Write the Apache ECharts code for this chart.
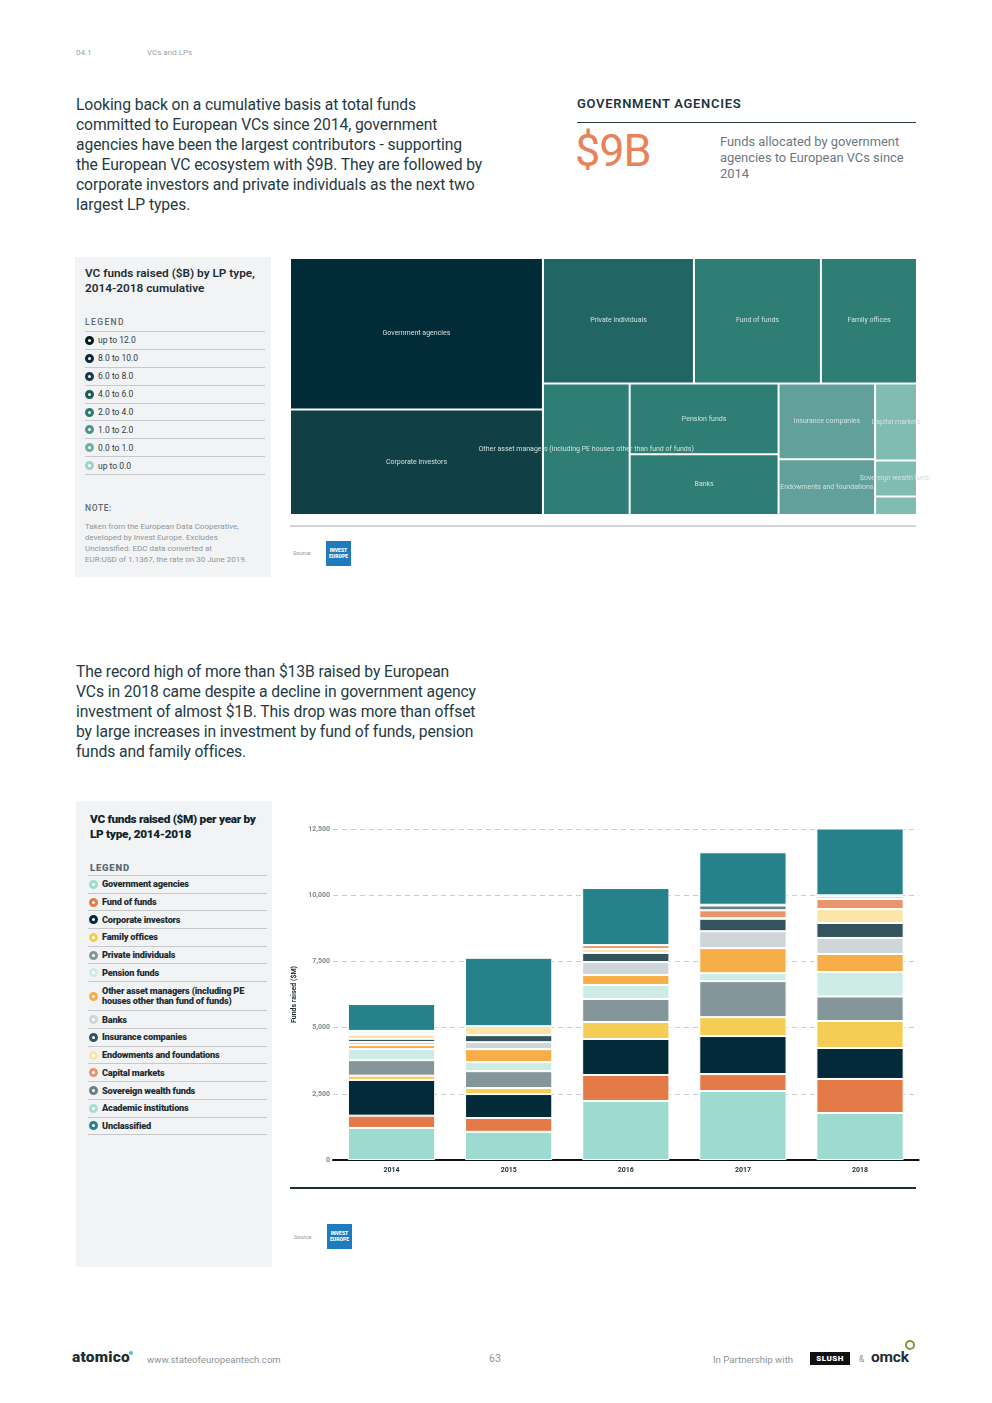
<!DOCTYPE html>
<html>
<head>
<meta charset="utf-8">
<title>VCs and LPs</title>
<script src="https://cdn.jsdelivr.net/npm/echarts@6/dist/echarts.min.js"></script>
<style>
html,body{margin:0;padding:0;}
body{width:992px;height:1403px;position:relative;background:#fff;font-family:Roboto,"Noto Sans",sans-serif;color:#253740;overflow:hidden;}
.a{position:absolute;white-space:nowrap;}
.hdr{font-size:8px;color:#9aa3a6;top:48px;}
.para{font-size:15.7px;line-height:20px;color:#263a42;letter-spacing:-0.1px;}
.panel{position:absolute;background:#f2f3f4;}
.lgbox{position:absolute;border-top:1.5px solid #c5c9cb;}
.lgrow{display:flex;align-items:center;border-bottom:1.5px solid #c5c9cb;box-sizing:border-box;}
.icon{width:3px;height:3px;border-radius:50%;border:3px solid #000;background:#fff;flex:none;margin-right:4px;}
.src{font-size:5.5px;color:#8a9598;}
.logo{position:absolute;width:25px;height:25px;background:#1f7bbd;color:#fff;font-size:5px;font-weight:900;line-height:5.5px;text-align:center;box-sizing:border-box;padding-top:7px;}
</style>
</head>
<body>
<div class="a hdr" style="left:76px;">04.1</div>
<div class="a hdr" style="left:147px;">VCs and LPs</div>

<div class="a para" style="left:76px;top:95px;">Looking back on a cumulative basis at total funds<br>committed to European VCs since 2014, government<br>agencies have been the largest contributors - supporting<br>the European VC ecosystem with $9B. They are followed by<br>corporate investors and private individuals as the next two<br>largest LP types.</div>

<div class="a" style="left:577px;top:96px;font-size:13px;font-weight:600;letter-spacing:0.7px;color:#1d3440;">GOVERNMENT AGENCIES</div>
<div class="a" style="left:577px;top:121.5px;width:339px;height:1.2px;background:#2a3a40;"></div>
<div class="a" style="left:575px;top:124px;font-size:45px;color:#e8825a;letter-spacing:-1px;">$9B</div>
<div class="a" style="left:720px;top:134px;font-size:12.9px;line-height:16px;color:#6b7880;">Funds allocated by government<br>agencies to European VCs since<br>2014</div>

<!-- Panel 1 -->
<div class="panel" style="left:75px;top:257px;width:196px;height:320px;"></div>
<div class="a" style="left:85px;top:266px;font-size:11.8px;line-height:15px;font-weight:600;color:#1d2e35;">VC funds raised ($B) by LP type,<br>2014-2018 cumulative</div>
<div class="a" style="left:85px;top:317px;font-size:8.5px;letter-spacing:1.4px;color:#5a6a70;font-weight:500;">LEGEND</div>
<div class="lgbox" id="lg1" style="left:85px;top:331px;width:180px;"></div>
<div class="a" style="left:85px;top:503px;font-size:8.5px;letter-spacing:0.6px;color:#5a6a70;font-weight:500;">NOTE:</div>
<div class="a" style="left:85px;top:520.5px;font-size:8px;line-height:11px;color:#8d979b;">Taken from the European Data Cooperative,<br>developed by Invest Europe. Excludes<br>Unclassified. EDC data converted at<br>EUR:USD of 1.1367, the rate on 30 June 2019.</div>

<div id="tree" class="a" style="left:280px;top:250px;width:650px;height:280px;"></div>
<div class="a" style="left:290px;top:525px;width:626px;height:2px;background:#d2d4d5;"></div>
<div class="a src" style="left:293px;top:550px;">Source:</div>
<div class="logo" style="left:326px;top:541px;">INVEST<br>EUROPE</div>

<div class="a para" style="left:76px;top:662px;">The record high of more than $13B raised by European<br>VCs in 2018 came despite a decline in government agency<br>investment of almost $1B. This drop was more than offset<br>by large increases in investment by fund of funds, pension<br>funds and family offices.</div>

<!-- Panel 2 -->
<div class="panel" style="left:76px;top:801px;width:196px;height:466px;"></div>
<div class="a" style="left:90px;top:811.5px;font-size:11.8px;line-height:15px;font-weight:900;color:#10252e;letter-spacing:-0.3px;">VC funds raised ($M) per year by<br>LP type, 2014-2018</div>
<div class="a" style="left:90px;top:861.5px;font-size:9.5px;letter-spacing:0.8px;color:#5a6c72;font-weight:900;">LEGEND</div>
<div class="lgbox" id="lg2" style="left:88px;top:875px;width:179px;"></div>

<div id="bars" class="a" style="left:280px;top:810px;width:660px;height:380px;"></div>
<div class="a" style="left:290px;top:1187px;width:626px;height:2px;background:#1d2e35;"></div>
<div class="a src" style="left:294px;top:1234px;">Source:</div>
<div class="logo" style="left:327px;top:1224px;">INVEST<br>EUROPE</div>

<!-- Footer -->
<div class="a" style="left:72px;top:1348px;font-size:15.5px;font-weight:900;color:#1d2e35;letter-spacing:0.2px;">atomico</div>
<div class="a" style="left:129px;top:1351px;width:4px;height:4px;border-radius:50%;background:#4fc3c0;"></div>
<div class="a" style="left:147px;top:1354px;font-size:9.6px;color:#8a9598;">www.stateofeuropeantech.com</div>
<div class="a" style="left:489px;top:1352px;font-size:10.5px;color:#8a9598;">63</div>
<div class="a" style="left:713px;top:1354px;font-size:9.6px;color:#8a9598;">In Partnership with</div>
<div class="a" style="left:810px;top:1352px;width:40px;height:13px;background:#111;color:#fff;font-size:8px;font-weight:900;text-align:center;line-height:13px;letter-spacing:0.5px;">SLUSH</div>
<div class="a" style="left:859px;top:1354px;font-size:8.5px;color:#8a9598;">&amp;</div>
<div class="a" style="left:871px;top:1348px;font-size:15.5px;font-weight:700;color:#1d2e35;letter-spacing:-0.2px;">omck</div>
<div class="a" style="left:905px;top:1340px;width:6px;height:6px;border-radius:50%;border:2.5px solid #7a9a3a;"></div>

<script>
// ---------------- DATA ----------------
const years = ['2014', '2015', '2016', '2017', '2018'];
const yAxisTicks = [0, 2500, 5000, 7500, 10000, 12500];

const lpTypes = [
  'Government agencies', 'Fund of funds', 'Corporate investors', 'Family offices',
  'Private individuals', 'Pension funds',
  'Other asset managers (including PE houses other than fund of funds)',
  'Banks', 'Insurance companies', 'Endowments and foundations', 'Capital markets',
  'Sovereign wealth funds', 'Academic institutions', 'Unclassified'
];
// $M per year, 2014..2018
const governmentAgencies   = [1210, 1065, 2230, 2605, 1775];
const fundOfFunds          = [465, 520, 980, 640, 1285];
const corporateInvestors   = [1350, 905, 1360, 1435, 1170];
const familyOffices        = [160, 225, 640, 715, 1020];
const privateIndividuals   = [585, 640, 870, 1360, 925];
const pensionFunds         = [420, 340, 530, 300, 925];
const otherAssetManagers   = [150, 490, 375, 945, 680];
const banks                = [115, 265, 490, 640, 605];
const insuranceCompanies   = [120, 265, 345, 470, 565];
const endowments           = [160, 340, 150, 20, 530];
const capitalMarkets       = [25, 0, 145, 300, 375];
const sovereignWealthFunds = [25, 0, 0, 180, 90];
const academicInstitutions = [90, 0, 0, 30, 50];
const unclassified         = [1015, 2580, 2155, 1980, 2960];

// Cumulative 2014-2018, $B (treemap, excludes Unclassified)
const treemapNames = [
  'Government agencies', 'Corporate investors', 'Private individuals', 'Fund of funds',
  'Family offices', 'Other asset managers (including PE houses other than fund of funds)',
  'Pension funds', 'Banks', 'Insurance companies', 'Endowments and foundations',
  'Capital markets', 'Sovereign wealth funds', 'Academic institutions'
];
const treemapValues = [8.9, 6.2, 4.4, 3.7, 2.8, 2.65, 2.45, 2.1, 1.7, 1.25, 0.75, 0.35, 0.18];
const rangeLabels = ['up to 12.0', '8.0 to 10.0', '6.0 to 8.0', '4.0 to 6.0', '2.0 to 4.0', '1.0 to 2.0', '0.0 to 1.0', 'up to 0.0'];
const rangeMins = [10, 8, 6, 4, 2, 1, 0, -Infinity];

// ---------------- STYLE ----------------
const seriesColors = ['#9ddbd0', '#e37a47', '#022a38', '#f5cd55', '#84969a', '#cdece6', '#f7ae48',
  '#ced6d9', '#33535d', '#fbe5a8', '#e8956c', '#6b7f86', '#a8ddd3', '#26828a'];
const rangeColors = ['#06161c', '#022b38', '#103f46', '#216564', '#2e7e75', '#62a09c', '#80bcb1', '#a5d5cc'];
const legendRangeColors = ['#061a20', '#0b2a33', '#123e44', '#1d5b59', '#2c7a72', '#4c948d', '#6cb0a7', '#9fd3ca'];
const FONT = 'Roboto, "Noto Sans", sans-serif';

const seriesValues = [governmentAgencies, fundOfFunds, corporateInvestors, familyOffices,
  privateIndividuals, pensionFunds, otherAssetManagers, banks, insuranceCompanies, endowments,
  capitalMarkets, sovereignWealthFunds, academicInstitutions, unclassified];

// ---------------- LEGENDS (HTML) ----------------
const lg1 = document.getElementById('lg1');
rangeLabels.forEach((lab, i) => {
  const r = document.createElement('div');
  r.className = 'lgrow';
  r.style.height = '17.9px';
  r.innerHTML = '<span class="icon" style="border-color:' + legendRangeColors[i] + '"></span>' +
    '<span style="font-size:8.5px;color:#2d3d44;">' + lab + '</span>';
  lg1.appendChild(r);
});
const lg2 = document.getElementById('lg2');
lpTypes.forEach((name, i) => {
  const r = document.createElement('div');
  r.className = 'lgrow';
  const two = name.length > 40;
  r.style.height = two ? '29.3px' : '17.7px';
  r.style.paddingLeft = '1px';
  r.innerHTML = '<span class="icon" style="border-color:' + seriesColors[i] + '"></span>' +
    '<span style="font-size:9.2px;font-weight:900;color:#1d2e35;line-height:10px;white-space:normal;width:160px;letter-spacing:-0.2px;">' +
    (two ? 'Other asset managers (including PE<br>houses other than fund of funds)' : name) + '</span>';
  lg2.appendChild(r);
});

// ---------------- TREEMAP ----------------
function rangeColor(v) {
  for (let i = 0; i < rangeMins.length; i++) if (v > rangeMins[i] || (i === rangeMins.length - 1)) return rangeColors[i];
}
function tmLeaf(name) {
  const v = treemapValues[treemapNames.indexOf(name)];
  return { name: name, value: v, itemStyle: { color: rangeColor(v) } };
}
function tmGroup(children) { return { name: '', children: children }; }
const treemapData = [
  tmLeaf(treemapNames[0]), tmLeaf(treemapNames[1]),
  tmGroup([
    tmGroup(treemapNames.slice(2, 5).map(tmLeaf)),
    tmGroup([tmGroup([tmGroup([tmLeaf(treemapNames[5])])]), tmGroup(treemapNames.slice(6).map(tmLeaf))])
  ])
];
const tree = echarts.init(document.getElementById('tree'), null, { renderer: 'canvas' });
tree.setOption({
  animation: false,
  series: [{
    type: 'treemap',
    left: 11, top: 9, width: 625, height: 255,
    sort: false,
    roam: false,
    nodeClick: false,
    breadcrumb: { show: false },
    visibleMin: 0,
    itemStyle: { borderWidth: 0, gapWidth: 2, borderColor: '#ffffff' },
    label: { show: true, position: 'inside', color: '#cfe2de', fontSize: 7, fontFamily: FONT, overflow: 'none' },
    upperLabel: { show: false },
    data: treemapData
  }]
});

// ---------------- STACKED BARS ----------------
const bars = echarts.init(document.getElementById('bars'), null, { renderer: 'canvas' });
bars.setOption({
  animation: false,
  grid: { left: 53, right: 21.4, top: 19, bottom: 30 },
  xAxis: {
    type: 'category', data: years,
    axisLine: { show: true, lineStyle: { color: '#111', width: 2 } },
    axisTick: { show: false },
    axisLabel: { fontSize: 7, fontWeight: 'bold', color: '#1d2e35', margin: 6.5, fontFamily: FONT }
  },
  yAxis: {
    type: 'value', min: yAxisTicks[0], max: yAxisTicks[yAxisTicks.length - 1], interval: 2500,
    name: 'Funds raised ($M)', nameLocation: 'middle', nameRotate: 90, nameGap: 34,
    nameTextStyle: { fontSize: 7, color: '#1d2e35', fontFamily: FONT, fontWeight: 'bold' },
    axisLine: { show: false }, axisTick: { show: false },
    axisLabel: { fontSize: 7, fontWeight: 'bold', color: '#7d8a8e', margin: 3, fontFamily: FONT,
      formatter: v => v.toLocaleString('en-US') },
    splitLine: { show: true, lineStyle: { color: '#c9cccd', width: 1.2, type: [5, 4] } }
  },
  series: lpTypes.map((name, i) => ({
    name: name, type: 'bar', stack: 'total',
    barCategoryGap: '25.5%',
    data: seriesValues[i],
    itemStyle: { color: seriesColors[i], borderColor: '#ffffff', borderWidth: 1 }
  }))
});
</script>
</body>
</html>
